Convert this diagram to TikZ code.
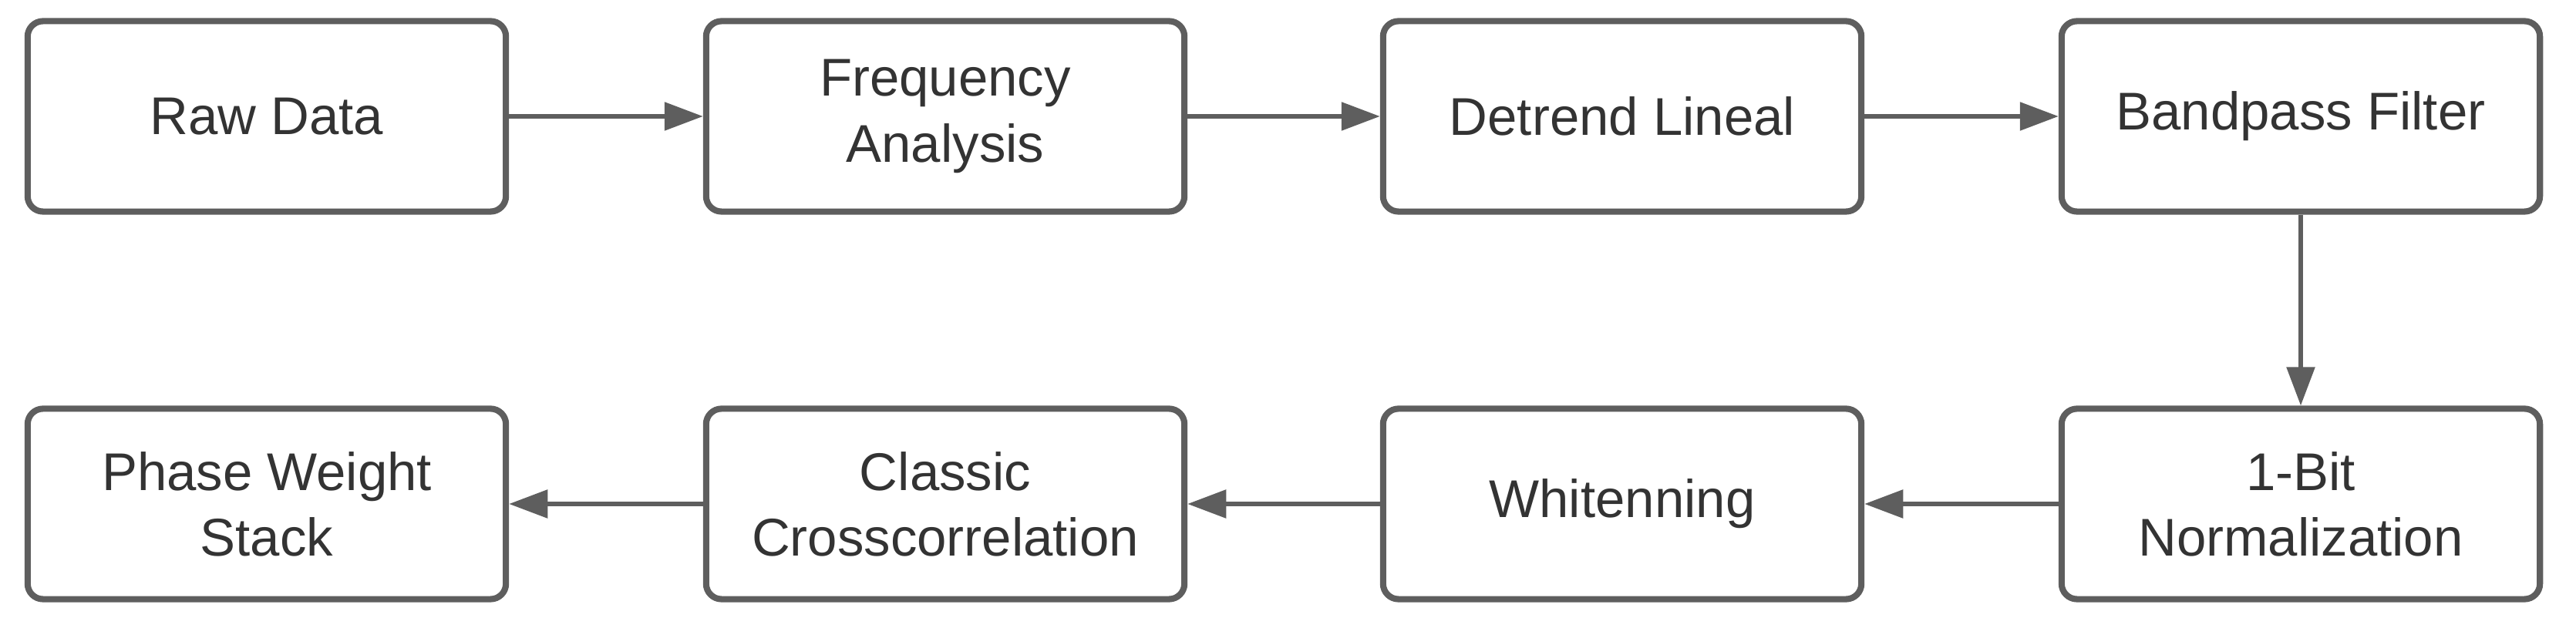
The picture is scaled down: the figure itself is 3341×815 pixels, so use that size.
\documentclass[tikz,border=0pt]{standalone}
\usepackage{fontspec}
\setmainfont{Liberation Sans}
\usetikzlibrary{arrows.meta}
\definecolor{edgegray}{HTML}{5E5E5E}
\definecolor{txtgray}{HTML}{333333}
\begin{document}
\begin{tikzpicture}[x=0.01cm,y=0.01cm,
  procbox/.style={draw=edgegray, line width=2.3pt, rounded corners=0.2cm,
    minimum width=6.2cm, minimum height=2.47cm, align=center,
    text=txtgray, font=\fontsize{19.6}{24.2}\selectfont, inner sep=0pt},
  flow/.style={draw=edgegray, line width=1.6pt,
    -{Triangle[length=0.5cm,width=0.36cm]}}]
\useasboundingbox (0,0) rectangle (3341,815);
\node[procbox] (raw)  at (346,664)  {Raw Data};
\node[procbox] (freq) at (1226,664) {Frequency\\Analysis};
\node[procbox] (det)  at (2104,664) {Detrend Lineal};
\node[procbox] (band) at (2984,664) {Bandpass Filter};
\node[procbox] (bit)  at (2984,161) {1-Bit\\Normalization};
\node[procbox] (whit) at (2104,161) {Whitenning};
\node[procbox] (cc)   at (1226,161) {Classic\\Crosscorrelation};
\node[procbox] (pws)  at (346,161)  {Phase Weight\\Stack};
\draw[flow] (raw) -- (freq);
\draw[flow] (freq) -- (det);
\draw[flow] (det) -- (band);
\draw[flow] (band) -- (bit);
\draw[flow] (bit) -- (whit);
\draw[flow] (whit) -- (cc);
\draw[flow] (cc) -- (pws);
\end{tikzpicture}
\end{document}
